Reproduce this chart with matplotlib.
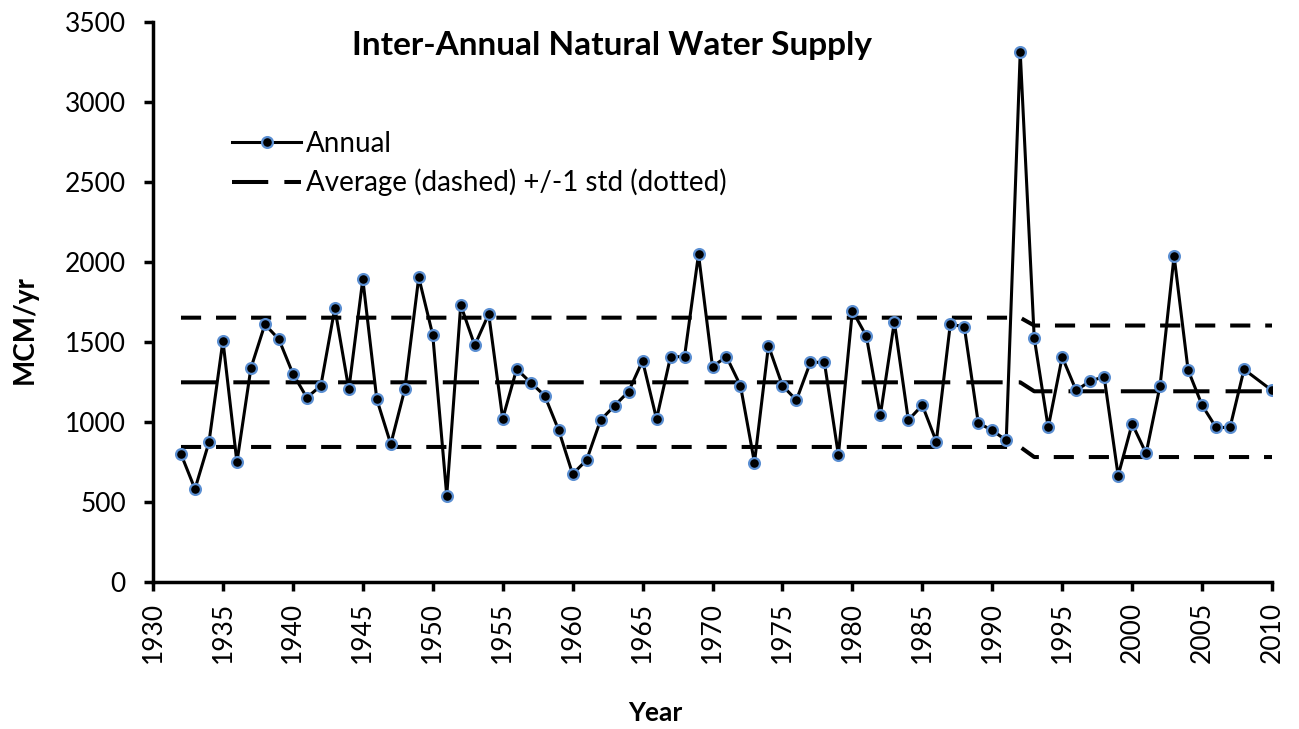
import matplotlib
matplotlib.use("Agg")
import matplotlib.pyplot as plt

plt.rcParams['font.family'] = ['Lato', 'DejaVu Sans']

# annual natural water supply (MCM/yr), no value for 2009
years = [1932, 1933, 1934, 1935, 1936, 1937, 1938, 1939, 1940, 1941,
         1942, 1943, 1944, 1945, 1946, 1947, 1948, 1949, 1950, 1951,
         1952, 1953, 1954, 1955, 1956, 1957, 1958, 1959, 1960, 1961,
         1962, 1963, 1964, 1965, 1966, 1967, 1968, 1969, 1970, 1971,
         1972, 1973, 1974, 1975, 1976, 1977, 1978, 1979, 1980, 1981,
         1982, 1983, 1984, 1985, 1986, 1987, 1988, 1989, 1990, 1991,
         1992, 1993, 1994, 1995, 1996, 1997, 1998, 1999, 2000, 2001,
         2002, 2003, 2004, 2005, 2006, 2007, 2008, 2010]
supply = [800, 581, 873, 1508, 748, 1337, 1610, 1517, 1302, 1152,
          1227, 1712, 1204, 1892, 1142, 862, 1204, 1904, 1544, 540,
          1731, 1479, 1675, 1021, 1331, 1246, 1165, 950, 675, 762,
          1012, 1102, 1190, 1383, 1019, 1408, 1408, 2048, 1346, 1408,
          1227, 746, 1477, 1227, 1137, 1373, 1373, 794, 1696, 1537,
          1042, 1626, 1012, 1105, 878, 1610, 1596, 994, 948, 885,
          3311, 1526, 966, 1406, 1197, 1256, 1283, 665, 989, 804,
          1228, 2038, 1325, 1105, 966, 966, 1329, 1197]

# two periods with their own average and standard deviation
period_start = [1932, 1993]
period_end = [1992, 2010]
period_mean = [1248, 1192]
period_std = [404, 411]

stat_x = []
mean_y = []
upper_y = []
lower_y = []
for s, e, m, sd in zip(period_start, period_end, period_mean, period_std):
    stat_x += [s, e]
    mean_y += [m, m]
    upper_y += [m + sd, m + sd]
    lower_y += [m - sd, m - sd]

fig = plt.figure(figsize=(12.99, 7.29), dpi=100)
ax = fig.add_axes([153/1299, 1-582/729, (1272-153)/1299, (582-22)/729])

mean_line, = ax.plot(stat_x, mean_y, color='black', lw=2.9,
                     dashes=(9, 4), dash_capstyle='butt')
ax.plot(stat_x, upper_y, color='black', lw=2.9, dashes=(5, 3.7), dash_capstyle='butt')
ax.plot(stat_x, lower_y, color='black', lw=2.9, dashes=(5, 3.7), dash_capstyle='butt')

annual_line, = ax.plot(years, supply, color='black', lw=2.2, marker='o',
                       markersize=7.8, markerfacecolor='black',
                       markeredgecolor='#5b8fd2', markeredgewidth=1.6)

ax.set_xlim(1930, 2010)
ax.set_ylim(0, 3500)
ax.set_xticks(range(1930, 2011, 5))
ax.set_yticks(range(0, 3501, 500))
ax.tick_params(axis='x', labelrotation=90, labelsize=19, direction='out',
               length=6.5, width=2.5, pad=8)
ax.tick_params(axis='y', labelsize=19, direction='out', length=6.5, width=2.5, pad=13)
for side in ['top', 'right']:
    ax.spines[side].set_visible(False)
for side in ['left', 'bottom']:
    ax.spines[side].set_linewidth(2.5)

fig.text(612/1299, 1-45/729, 'Inter-Annual Natural Water Supply',
         ha='center', va='center', fontsize=24, fontweight='bold')
fig.text(25/1299, 1-330/729, 'MCM/yr', rotation=90, ha='center', va='center',
         fontsize=20, fontweight='bold')
fig.text(655/1299, 1-713/729, 'Year', ha='center', va='center',
         fontsize=19, fontweight='bold')

ax.legend([annual_line, mean_line],
          ['Annual', 'Average (dashed) +/-1 std (dotted)'],
          loc='upper left', bbox_to_anchor=(207/1299, 1-106/729),
          bbox_transform=fig.transFigure, frameon=False, fontsize=20,
          handlelength=2.5, handletextpad=0.15, labelspacing=0.42)

fig.savefig('out.png', dpi=100)
